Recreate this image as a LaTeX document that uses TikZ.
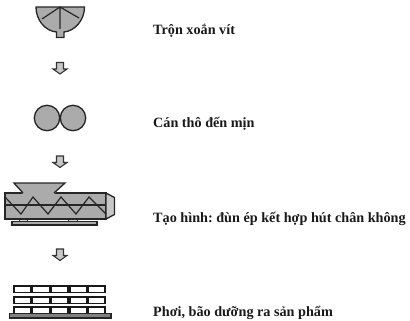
\documentclass[tikz,border=0pt]{standalone}
\usepackage{fontspec}
\setmainfont{Liberation Serif}
\tikzset{
  part/.style={draw=black!85,fill=black!33,line width=1.3pt,line join=miter},
  inner/.style={draw=black!85,line width=1.2pt},
  flowarrow/.style={draw=black!80,fill=black!22,line width=1.1pt},
  brick/.style={draw=black!90,fill=white,line width=1.5pt},
  steplabel/.style={anchor=base west,inner sep=0pt,font=\fontsize{14.2}{16}\selectfont\bfseries\frenchspacing,text=black!90}
}
% Block arrow pointing down, top centre at (x,y)
\newcommand{\downarrowat}[2]{%
  \draw[flowarrow,shift={(#1,#2)}] (-3.5,0) -- (3.5,0) -- (3.5,6.5) -- (7,6.5) -- (0,11.5) -- (-7,6.5) -- (-3.5,6.5) -- cycle;}
\begin{document}
\begin{tikzpicture}[x=1pt,y=-1pt]
\useasboundingbox (0,0) rectangle (410,321);
% Mixer bowl
\draw[part] (36,7) -- (84.5,7) .. controls (84.5,20) and (75,31) .. (64,32) -- (64,37.5) -- (56.5,37.5) -- (56.5,32) .. controls (45,31) and (36,20) .. (36,7) -- cycle;
\draw[inner] (60,7) -- (60,29) (60,7) -- (42,19) (60,7) -- (79,18);
\downarrowat{60}{62.5}
% Rollers
\draw[part] (47,118) circle (12.7);
\draw[part] (73,118) circle (12.7);
\downarrowat{60}{156}
% Extruder: barrel, end cap, feed hopper opening into the barrel
\draw[part] (5,193) rectangle (106,219);
\draw[part,fill=black!22] (106,193) -- (114.5,197.5) -- (114.5,214.5) -- (106,219) -- cycle;
\fill[black!33] (14,183) -- (65,183) -- (54,194) -- (23,194) -- cycle;
\draw[inner,line width=1.3pt] (23,193) -- (14,183) -- (65,183) -- (54,193);
\draw[inner] (5,205) -- (106,205);
\draw[inner] (5,197) -- (21,214) -- (33,197) -- (48,214) -- (61,197) -- (76,214) -- (89,197) -- (106,214);
\draw[part,fill=black!15,line width=0.8pt] (19,219) rectangle (27,222);
\draw[part,fill=black!15,line width=0.8pt] (68,219) rectangle (77,222);
\draw[part] (12,221.5) rectangle (97,225);
\downarrowat{60}{249}
% Drying rack
\foreach \y in {286,297,307}{
  \foreach \x in {14,32.5,51,70,88}{
    \draw[brick] (\x,\y) rectangle ++(17,6.5);
  }
}
\draw[part,fill=black!50] (9.5,313.5) rectangle (111,318);
% Step labels
\node[steplabel] (mix) at (153,35) {Trộn xoắn vít};
\node[steplabel] (roll) at (153,128) {Cán thô đến mịn};
\node[steplabel] (form) at (153,222) {Tạo hình: đùn ép kết hợp hút chân không};
\node[steplabel] (dry) at (153,316.5) {Phơi, bão dưỡng ra sản phẩm};
\end{tikzpicture}
\end{document}
